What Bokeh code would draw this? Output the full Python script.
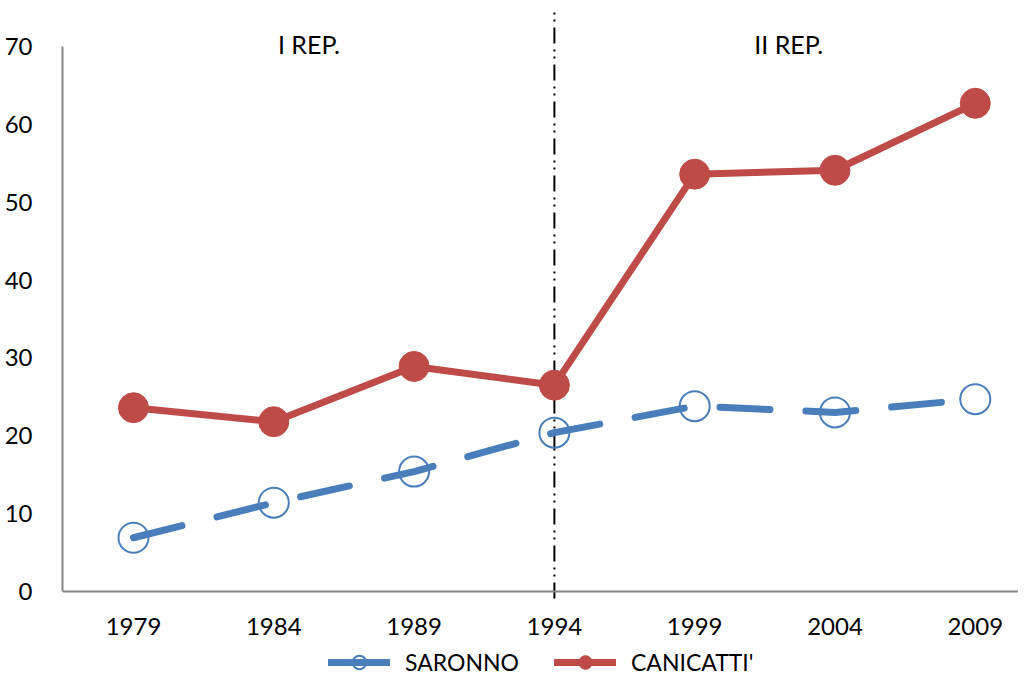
from bokeh.plotting import figure
from bokeh.models import Range1d, FixedTicker, Legend, LegendItem, Label
from bokeh.embed import file_html
from bokeh.resources import INLINE

years = [1979, 1984, 1989, 1994, 1999, 2004, 2009]
year_labels = ["1979", "1984", "1989", "1994", "1999", "2004", "2009"]
saronno = [6.9, 11.4, 15.4, 20.4, 23.8, 23.0, 24.7]
canicatti = [23.6, 21.8, 28.9, 26.5, 53.6, 54.1, 62.7]
y_ticks = [0, 10, 20, 30, 40, 50, 60, 70]
split_year = 1994
period_labels = ["I REP.", "II REP."]
period_x = [1985.25, 2002.35]

FONT = "Lato"
BLUE = "#4A7EBB"
RED = "#BE4B48"
GREY = "#868686"

Y_MIN, Y_MAX = -11.05, 74.88
p = figure(width=1018, height=677, output_backend="svg", toolbar_location=None,
           x_range=Range1d(1976.47, 2010.54), y_range=Range1d(Y_MIN, Y_MAX),
           min_border_left=62, min_border_right=0, min_border_top=8, min_border_bottom=0)
p.outline_line_color = None
p.grid.grid_line_color = None

for ax in (p.xaxis[0], p.yaxis[0]):
    ax.axis_line_color = GREY
    ax.axis_line_width = 2
    ax.major_tick_line_color = None
    ax.minor_tick_line_color = None
    ax.major_label_text_font = FONT
    ax.major_label_text_font_size = "24px"
    ax.major_label_text_color = "#000000"

p.yaxis.ticker = FixedTicker(ticks=y_ticks)
p.yaxis.bounds = (0, 70)
p.yaxis.major_label_standoff = 24
p.xaxis.ticker = FixedTicker(ticks=years)
p.xaxis.major_label_overrides = {y: s for y, s in zip(years, year_labels)}
p.xaxis.major_label_standoff = 21
p.xaxis.fixed_location = 0

# vertical separator
p.segment(x0=[split_year], y0=[-0.9], x1=[split_year], y1=[Y_MAX], line_color="black",
          line_width=2, line_dash="16 6 2 5 2 6")

l1 = p.line(years, saronno, line_color=BLUE, line_width=7, line_dash="50 36", line_cap="round")
s1 = p.scatter(years, saronno, size=30, marker="circle", fill_color=None,
               line_color=BLUE, line_width=2)
l2 = p.line(years, canicatti, line_color=RED, line_width=7, line_cap="round", line_join="round")
s2 = p.scatter(years, canicatti, size=30, marker="circle", fill_color=RED, line_color=RED)

for txt, xx in zip(period_labels, period_x):
    p.add_layout(Label(x=xx, y=70.35, text=txt, text_font=FONT, text_font_size="25px",
                       text_align="center", text_baseline="middle", text_color="#000000"))

# legend-only glyphs (solid sample lines, no visible data)
nan = [float("nan")]
lg1 = p.line(nan, nan, line_color=BLUE, line_width=7, line_cap="round")
lm1 = p.scatter(nan, nan, marker="circle", fill_color=None, line_color=BLUE, line_width=2)
lg2 = p.line(nan, nan, line_color=RED, line_width=7, line_cap="round")
lm2 = p.scatter(nan, nan, marker="circle", fill_color=RED, line_color=RED)

legend = Legend(items=[LegendItem(label="SARONNO", renderers=[lg1, lm1]),
                       LegendItem(label="CANICATTI'", renderers=[lg2, lm2])],
                orientation="horizontal", location=(266, -2),
                padding=0, margin=0, spacing=35, glyph_width=62, glyph_height=34,
                label_standoff=15, label_text_font=FONT, label_text_font_size="23px",
                label_text_color="#000000",
                border_line_color=None, background_fill_alpha=0)
p.add_layout(legend, "center")

open("out.html", "w").write(file_html(p, INLINE))
